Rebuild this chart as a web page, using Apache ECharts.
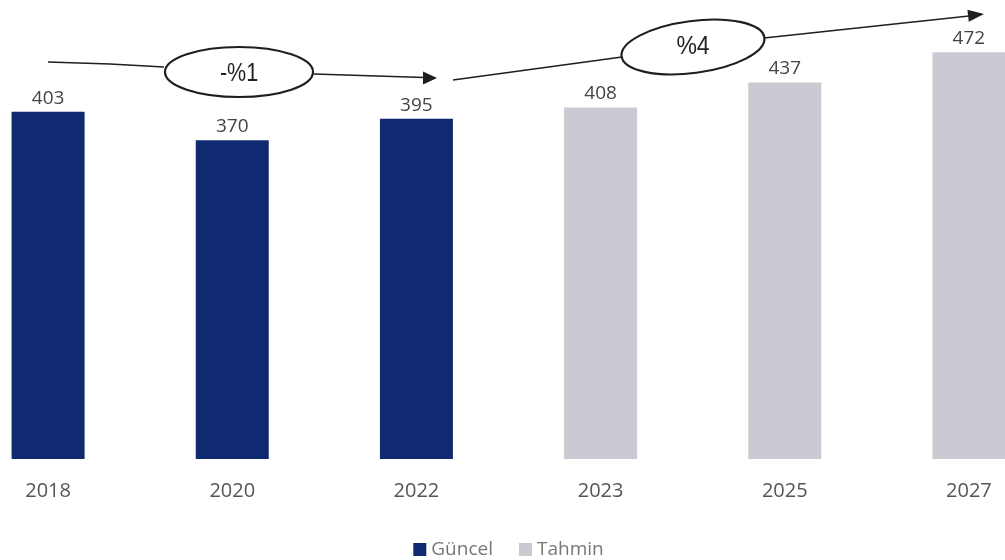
<!DOCTYPE html>
<html>
<head>
<meta charset="utf-8">
<script src="https://cdn.jsdelivr.net/npm/echarts@6/dist/echarts.min.js"></script>
<style>html,body{margin:0;padding:0;background:#fff;overflow:hidden;width:1005px;height:560px;}#c{width:1105px;height:560px;margin-left:-44px;}</style>
</head>
<body>
<div id="c"></div>
<script>
const categories = ['2018', '2020', '2022', '2023', '2025', '2027'];
const actualValues = [403, 370, 395, '-', '-', '-'];
const forecastValues = ['-', '-', '-', 408, 437, 472];
const seriesNames = ['Güncel', 'Tahmin'];
const growthLabels = ['-%1', '%4'];

const chart = echarts.init(document.getElementById('c'));
const lineColor = '#1e1e1e';
const labelFont = 'Open Sans';
const noteFont = '25px "Liberation Sans", Arial, sans-serif';

const option = {
  animation: false,
  grid: { left: 0, right: 0, top: 11, bottom: 101, containLabel: false },
  legend: {
    data: seriesNames,
    top: 535,
    left: 'center',
    itemWidth: 13,
    itemHeight: 13,
    itemGap: 26,
    icon: 'rect',
    textStyle: { color: '#777', fontSize: 19, fontFamily: labelFont }
  },
  xAxis: {
    type: 'category',
    data: categories,
    axisLine: { show: false },
    axisTick: { show: false },
    axisLabel: { color: '#555', fontSize: 20, fontFamily: labelFont, margin: 22 }
  },
  yAxis: { type: 'value', min: 0, max: 520, show: false, splitLine: { show: false } },
  series: [
    {
      name: seriesNames[0], type: 'bar', stack: 'all', barWidth: 73,
      data: actualValues,
      itemStyle: { color: '#0f2a70' },
      label: { show: true, position: 'top', distance: 4, color: '#444', fontSize: 19, fontFamily: labelFont }
    },
    {
      name: seriesNames[1], type: 'bar', stack: 'all', barWidth: 73,
      data: forecastValues,
      itemStyle: { color: '#cacad2' },
      label: { show: true, position: 'top', distance: 4, color: '#444', fontSize: 19, fontFamily: labelFont }
    }
  ],
  graphic: [{
    type: 'group', x: 44, y: 0,
    children: [
      { type: 'polyline', shape: { points: [[48, 62], [110, 64], [164, 67]] }, style: { stroke: lineColor, lineWidth: 1.5, fill: null } },
      { type: 'ellipse', shape: { cx: 239, cy: 72, rx: 74, ry: 25 }, style: { stroke: lineColor, lineWidth: 2.2, fill: 'none' } },
      { type: 'text', x: 239, y: 74, scaleX: 0.86, style: { text: growthLabels[0], fill: '#222', font: noteFont, align: 'center', verticalAlign: 'middle' } },
      { type: 'line', shape: { x1: 314, y1: 74, x2: 424, y2: 77.5 }, style: { stroke: lineColor, lineWidth: 1.5 } },
      { type: 'polygon', shape: { points: [[437, 78], [423, 71.5], [423, 84.5]] }, style: { fill: lineColor } },
      { type: 'line', shape: { x1: 453, y1: 80, x2: 622, y2: 57 }, style: { stroke: lineColor, lineWidth: 1.5 } },
      { type: 'ellipse', x: 693, y: 47, rotation: 0.13, shape: { cx: 0, cy: 0, rx: 72, ry: 26 }, style: { stroke: lineColor, lineWidth: 2.2, fill: 'none' } },
      { type: 'text', x: 693, y: 47, scaleX: 0.92, style: { text: growthLabels[1], fill: '#222', font: noteFont, align: 'center', verticalAlign: 'middle' } },
      { type: 'line', shape: { x1: 764, y1: 38, x2: 969, y2: 16 }, style: { stroke: lineColor, lineWidth: 1.5 } },
      { type: 'polygon', shape: { points: [[984, 14], [968.8, 21.8], [967.4, 9.8]] }, style: { fill: lineColor } }
    ]
  }]
};
chart.setOption(option);
</script>
</body>
</html>
